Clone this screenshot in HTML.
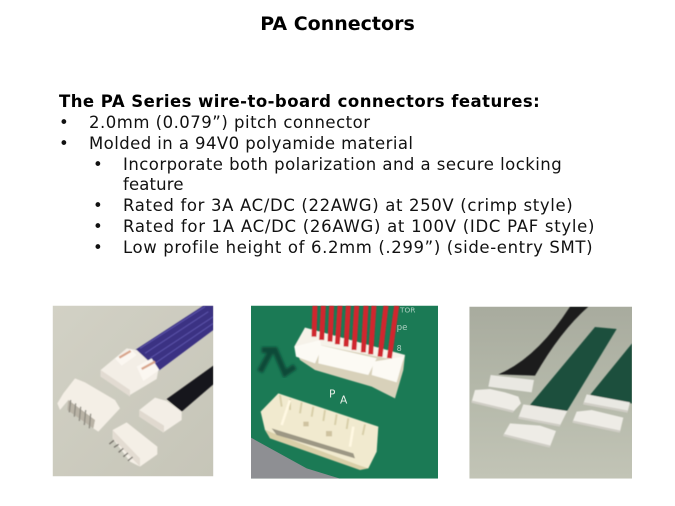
<!DOCTYPE html>
<html><head><meta charset="utf-8"><style>
html,body{margin:0;padding:0;background:#fff;width:675px;height:506px;overflow:hidden}
body{position:relative;font-family:"DejaVu Sans",sans-serif;color:#000}
.t{position:absolute;white-space:nowrap;font-size:16.5px;line-height:20px;color:#111}
svg{position:absolute;left:0;top:0}
</style></head><body>
<svg width="675" height="506" viewBox="0 0 675 506">
<defs>
<filter id="b" x="-5%" y="-5%" width="110%" height="110%"><feGaussianBlur stdDeviation="1.6"/></filter>
<filter id="c" x="-20%" y="-20%" width="140%" height="140%"><feGaussianBlur stdDeviation="4"/></filter>
<linearGradient id="g1" x1="0" y1="0" x2="1" y2="1"><stop offset="0" stop-color="#d2d1c5"/><stop offset="1" stop-color="#c6c5b8"/></linearGradient>
<linearGradient id="g3" x1="0" y1="0" x2="0" y2="1"><stop offset="0" stop-color="#a8ab9e"/><stop offset=".55" stop-color="#b6baab"/><stop offset="1" stop-color="#c2c4b6"/></linearGradient>
<clipPath id="k1"><rect x="38" y="32" width="482" height="512"/></clipPath>
<clipPath id="k2"><rect x="33" y="32" width="561" height="519"/></clipPath>
<clipPath id="k3"><rect x="28" y="35" width="488" height="516"/></clipPath>
</defs>

<g transform="translate(40,295) scale(.33333)">
<g clip-path="url(#k1)">
<rect x="38" y="32" width="482" height="512" fill="url(#g1)"/>
<g filter="url(#b)">
<polygon points="285,165 490,32 520,32 520,105 355,228" fill="#3b3183"/>
<path d="M300,160 L495,35 M315,175 L505,50 M330,190 L520,65 M345,205 L520,85" stroke="#5a52a8" stroke-width="3" fill="none"/>
<polygon points="380,312 520,212 520,268 425,350" fill="#17151a"/>
<polygon points="182,225 260,160 290,165 355,225 350,252 270,300 182,245" fill="#f3eee6"/>
<polygon points="182,225 270,285 270,305 182,245" fill="#e2dbd2"/>
<polygon points="225,190 272,162 290,180 245,212" fill="#fbf7f1"/>
<polygon points="290,215 335,190 358,225 310,258" fill="#fbf7f1"/>
<path d="M238,188 L272,168 M305,222 L345,200" stroke="#d9a68c" stroke-width="7"/>
<polygon points="70,295 105,250 135,262 225,315 240,340 175,410 160,400 165,375 85,315 60,345 52,325" fill="#f4efe6"/>
<polygon points="85,315 165,375 160,400 82,345" fill="#b9b3a6"/>
<path d="M92,315 L88,352 M107,325 L103,365 M122,335 L118,378 M137,345 L133,390 M152,356 L148,400" stroke="#8d8a80" stroke-width="4"/>
<polygon points="298,345 345,308 380,318 425,350 425,375 370,412 298,365" fill="#f3eee6"/>
<polygon points="298,345 372,392 372,412 298,365" fill="#e0d9cf"/>
<polygon points="218,405 260,382 352,455 352,478 300,515 270,500 218,430" fill="#f4efe6"/>
<polygon points="218,405 300,490 300,515 218,430" fill="#e3dcd2"/>
<path d="M208,447 L222,436 M222,457 L236,448 M236,472 L250,460 M250,485 L264,474 M264,497 L278,486" stroke="#77736c" stroke-width="4"/>
</g>
</g>
</g>

<g transform="translate(240,295) scale(.33333)">
<g clip-path="url(#k2)">
<rect x="33" y="32" width="561" height="519" fill="#1b7a55"/>
<polygon points="33,428 200,520 300,551 33,551" fill="#8e8f93"/>
<path d="M65,165 L105,165 L135,235 L165,215 M60,230 L95,165" stroke="#0f4a38" stroke-width="18" fill="none" filter="url(#c)"/>
<g filter="url(#b)">
<polygon points="163,155 195,98 495,180 490,225 465,310 395,275 225,225 180,195" fill="#d8d1ba"/>
<polygon points="163,155 195,98 495,180 488,200 240,150" fill="#f6f2e9"/>
<polygon points="238,150 410,190 385,240 235,205" fill="#fcfaf4"/>
<polygon points="163,155 240,135 245,160 225,205 168,185" fill="#fcfaf4"/>
<polygon points="400,200 492,185 470,262 395,240" fill="#fcfaf4"/>
<path d="M225,32 L222,125 M250,32 L245,135 M275,32 L270,140 M300,32 L292,148 M325,32 L318,155 M350,32 L342,165 M378,32 L370,172 M402,32 L392,178 M438,32 L420,185 M470,32 L448,190" stroke="#d0252f" stroke-width="15" fill="none"/>
<polygon points="62,350 115,295 415,395 410,470 385,520 355,520 75,405" fill="#f1eacf"/>
<path d="M120,300 L125,335 M150,312 L150,345 M185,322 L180,355 M220,335 L215,365 M255,345 L250,378 M290,358 L285,390 M325,370 L320,402 M375,388 L368,420" stroke="#d8cfa9" stroke-width="6"/>
<polygon points="75,405 355,510 385,520 360,525 90,430" fill="#d9cfa8"/>
<polygon points="95,400 340,475 345,490 110,420" fill="#9c9784"/>
<path d="M150,315 L125,390 M340,395 L330,455" stroke="#fff8e2" stroke-width="8"/>
<rect x="190" y="380" width="16" height="14" fill="#cfc3a0"/><rect x="258" y="408" width="18" height="16" fill="#cfc3a0"/>
</g>
<text x="267" y="308" font-family="'DejaVu Sans',sans-serif" font-size="32" fill="#e8efe8">P</text>
<text x="300" y="326" font-family="'DejaVu Sans',sans-serif" font-size="32" fill="#e8efe8">A</text>
<text x="480" y="52" font-family="'DejaVu Sans',sans-serif" font-size="22" fill="#cfe3da" opacity=".8">TOR</text>
<text x="470" y="105" font-family="'DejaVu Sans',sans-serif" font-size="26" fill="#cfe3da" opacity=".8">pe</text>
<text x="470" y="168" font-family="'DejaVu Sans',sans-serif" font-size="24" fill="#cfe3da" opacity=".8">8</text>
</g>
</g>

<g transform="translate(460,295) scale(.33333)">
<g clip-path="url(#k3)">
<rect x="28" y="35" width="488" height="516" fill="url(#g3)"/>
<g filter="url(#b)">
<path d="M330,35 L385,35 Q300,110 225,242 L115,238 Q230,190 330,35Z" fill="#1d1f1f"/>
<polygon points="405,96 470,102 320,350 210,330" fill="#1f4f3c"/>
<polygon points="516,145 516,325 490,325 390,300" fill="#1f4f3c"/>
<polygon points="92,240 222,255 215,292 85,275" fill="#e9e8e2"/>
<polygon points="45,285 90,282 135,292 175,305 183,325 160,350 35,320" fill="#eeece6"/>
<polygon points="190,328 322,348 300,392 175,368" fill="#ebe9e3"/>
<polygon points="380,298 510,322 503,350 370,325" fill="#e9e8e2"/>
<polygon points="350,350 395,345 490,368 480,410 338,380" fill="#eeece6"/>
<polygon points="150,385 240,392 288,408 270,455 130,420" fill="#eeece6"/>
<path d="M35,320 L160,350 M175,368 L300,392 M338,380 L480,410 M130,420 L270,455 M370,325 L503,350" stroke="#cfcdc5" stroke-width="7" fill="none"/>
</g>
</g>
</g>
</svg>

<div style="position:absolute;left:0;width:675px;top:13px;text-align:center;font:bold 19px/22px 'DejaVu Sans',sans-serif">PA Connectors</div>
<div class="t" style="left:59px;top:92px;font-weight:bold;color:#000;letter-spacing:.46px">The PA Series wire-to-board connectors features:</div>
<div class="t" style="left:59px;top:113px">•</div><div class="t" style="left:89px;top:113px;letter-spacing:.5px">2.0mm (0.079”) pitch connector</div>
<div class="t" style="left:59px;top:134px">•</div><div class="t" style="left:89px;top:134px;letter-spacing:.43px">Molded in a 94V0 polyamide material</div>
<div class="t" style="left:93px;top:155px">•</div><div class="t" style="left:123px;top:155px;letter-spacing:.46px">Incorporate both polarization and a secure locking</div>
<div class="t" style="left:123px;top:175px;letter-spacing:.15px">feature</div>
<div class="t" style="left:93px;top:196px">•</div><div class="t" style="left:123px;top:196px;letter-spacing:.65px">Rated for 3A AC/DC (22AWG) at 250V (crimp style)</div>
<div class="t" style="left:93px;top:217px">•</div><div class="t" style="left:123px;top:217px;letter-spacing:.72px">Rated for 1A AC/DC (26AWG) at 100V (IDC PAF style)</div>
<div class="t" style="left:93px;top:238px">•</div><div class="t" style="left:123px;top:238px;letter-spacing:.63px">Low profile height of 6.2mm (.299”) (side-entry SMT)</div>
</body></html>
